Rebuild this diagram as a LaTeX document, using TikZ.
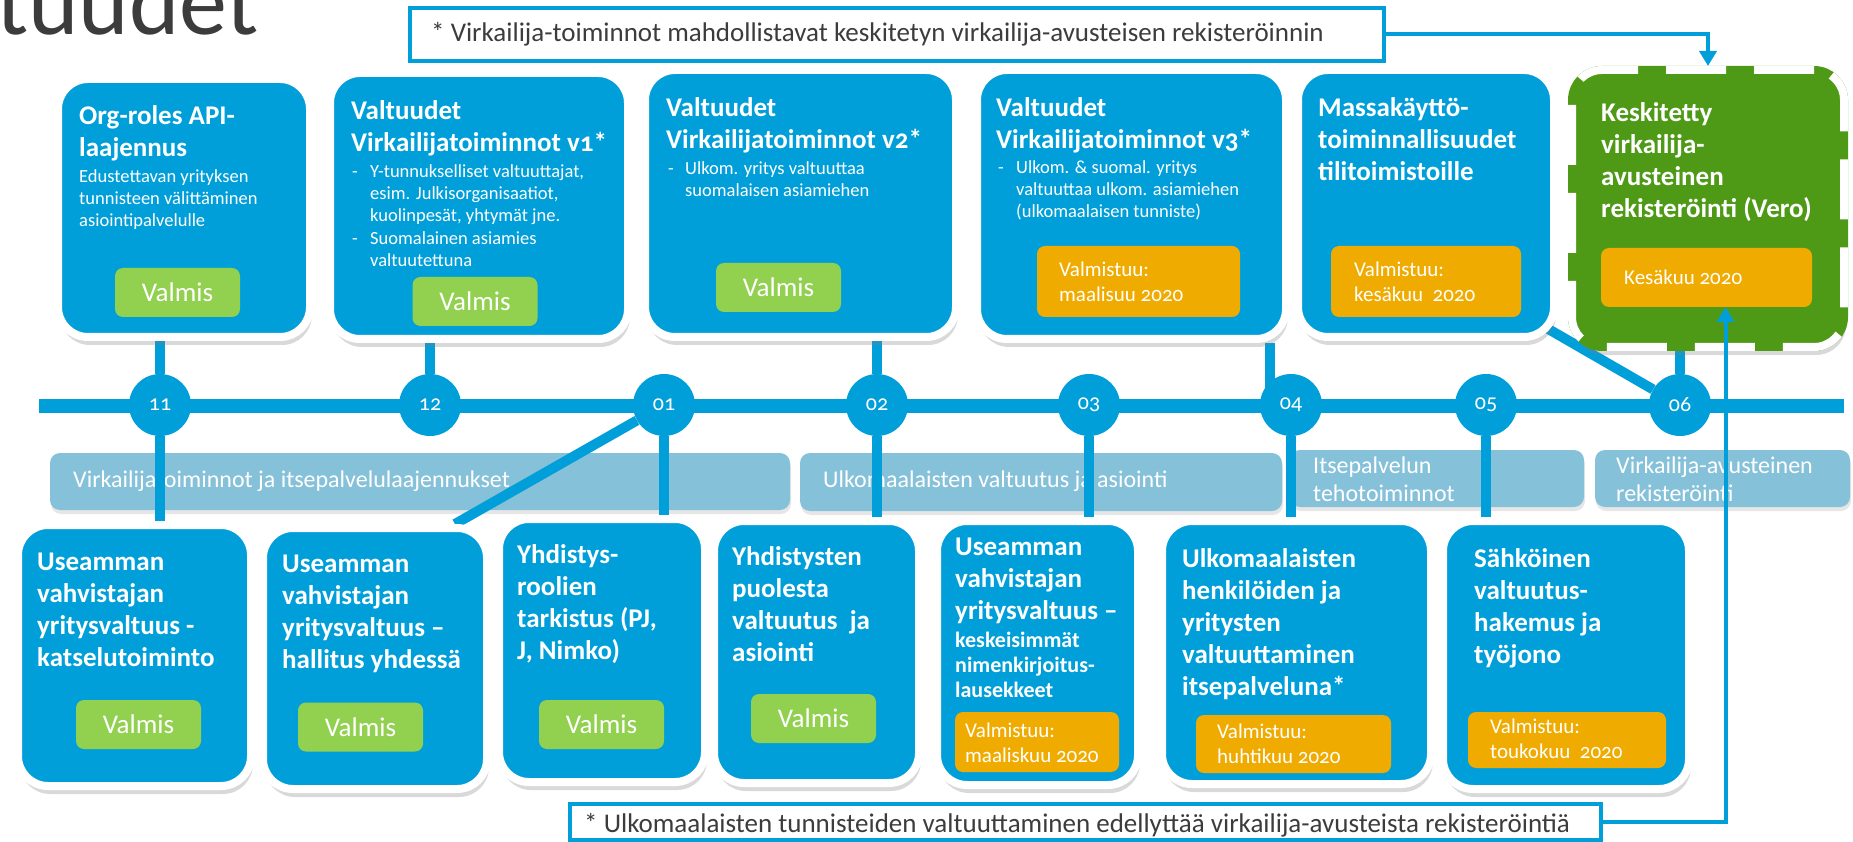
\documentclass[tikz,border=0pt]{standalone}
\usepackage{fontspec}
\setmainfont{Carlito}[Numbers=OldStyle]
\usetikzlibrary{shadows,arrows.meta}

\definecolor{vblue}{HTML}{009FDA}
\definecolor{vgreen}{HTML}{92D050}
\definecolor{vorange}{HTML}{F0AB00}
\definecolor{vleaf}{HTML}{4E9A17}
\definecolor{vband}{HTML}{86C1DA}
\definecolor{vgray}{HTML}{3C3C3C}

\pgfdeclarelayer{bands}
\pgfdeclarelayer{lines}
\pgfsetlayers{bands,lines,main}

\tikzset{
  taskbox/.style={draw=white, line width=8pt, fill=vblue, rounded corners=30pt,
    drop shadow={shadow xshift=2pt, shadow yshift=-8pt, opacity=0.3}},
  vergobox/.style={taskbox, fill=vleaf, dash pattern=on 60pt off 28pt,
    preaction={draw=vleaf, line width=8pt, solid}},
  donebtn/.style={fill=vgreen, rounded corners=8pt, minimum width=125pt, minimum height=49pt,
    inner sep=0pt, text=white, font=\fontsize{27}{32}\selectfont},
  duebtn/.style={fill=vorange, rounded corners=8pt, inner sep=0pt},
  headtxt/.style={anchor=base west, align=left, inner sep=0pt, text=white,
    font=\fontsize{27}{32}\selectfont\bfseries},
  subtxt/.style={anchor=base west, align=left, inner sep=0pt, text=white,
    font=\fontsize{18.5}{22}\selectfont},
  duetxt/.style={anchor=base west, align=left, inner sep=0pt, text=white,
    font=\fontsize{21}{25}\selectfont},
  phaseband/.style={fill=vband, rounded corners=10pt, inner sep=0pt,
    drop shadow={shadow xshift=1pt, shadow yshift=-4pt, opacity=0.2}},
  phasetxt/.style={anchor=base west, align=left, inner sep=0pt, text=white,
    font=\fontsize{24}{28}\selectfont},
  monthdot/.style={circle, fill=vblue, minimum size=62pt, inner sep=0pt, text=white,
    font=\fontsize{22}{22}\selectfont},
  link/.style={draw=vblue, line width=10pt},
  footbox/.style={draw=vblue, line width=4pt, fill=white, inner sep=0pt},
  foottxt/.style={anchor=base west, inner sep=0pt, text=vgray,
    font=\fontsize{27}{32}\selectfont},
  footarrow/.style={draw=vblue, line width=4pt, -{Triangle[length=15pt,width=17pt]}}
}

\begin{document}
\begin{tikzpicture}[x=1pt,y=-1pt]
\useasboundingbox (0,0) rectangle (1853,842);

\node[anchor=base west, inner sep=0pt, text=vgray, font=\fontsize{96}{96}\selectfont] (ttl) at (-4,35) {tuudet};

\node[taskbox, minimum width=252pt, minimum height=258pt] (t1) at (184,208) {};
\node[headtxt] (t1h) at (79,157) {Org-roles API-\\laajennus};
\node[subtxt] (t1s) at (79,227) {Edustettavan yrityksen\\tunnisteen välittäminen\\asiointipalvelulle};
\node[donebtn] (t1v) at (177.5,292.5) {Valmis};

\node[taskbox, minimum width=298pt, minimum height=266pt] (t2) at (479,206) {};
\node[headtxt] (t2h) at (351,152) {Valtuudet\\Virkailijatoiminnot v1*};
\node[subtxt] (t2a) at (352,178) {-};
\node[subtxt] (t2b) at (370,222) {Y-tunnukselliset valtuuttajat,\\esim. Julkisorganisaatiot,\\kuolinpesät, yhtymät jne.};
\node[subtxt] (t2c) at (352,245) {-};
\node[subtxt] (t2d) at (370,267) {Suomalainen asiamies\\valtuutettuna};
\node[donebtn] (t2v) at (475,301.5) {Valmis};

\node[taskbox, minimum width=311pt, minimum height=267pt] (t3) at (800.5,203.5) {};
\node[headtxt] (t3h) at (666,149) {Valtuudet\\Virkailijatoiminnot v2*};
\node[subtxt] (t3a) at (668,175) {-};
\node[subtxt] (t3b) at (685,197) {Ulkom. yritys valtuuttaa\\suomalaisen asiamiehen};
\node[donebtn] (t3v) at (778.5,287.5) {Valmis};

\node[taskbox, minimum width=309pt, minimum height=269pt] (t4) at (1131.5,204.5) {};
\node[headtxt] (t4h) at (996,149) {Valtuudet\\Virkailijatoiminnot v3*};
\node[subtxt] (t4a) at (998,174) {-};
\node[subtxt] (t4b) at (1016,218) {Ulkom. \& suomal. yritys\\valtuuttaa ulkom. asiamiehen\\(ulkomaalaisen tunniste)};
\node[duebtn, minimum width=203pt, minimum height=71pt] (t4o) at (1138.5,281.5) {};
\node[duetxt] (t4t) at (1059,302) {Valmistuu:\\maalisuu 2020};

\node[taskbox, minimum width=256pt, minimum height=267pt] (t5) at (1426,203.5) {};
\node[headtxt] (t5h) at (1318,181) {Massakäyttö-\\toiminnallisuudet\\tilitoimistoille};
\node[duebtn, minimum width=190pt, minimum height=71pt] (t5o) at (1426,281.5) {};
\node[duetxt] (t5t) at (1354,302) {Valmistuu:\\kesäkuu\ \ 2020};

\node[vergobox, minimum width=272pt, minimum height=277pt] (t6) at (1708,208.5) {};
\node[headtxt] (t6h) at (1601,218) {Keskitetty\\virkailija-\\avusteinen\\rekisteröinti (Vero)};
\node[duebtn, minimum width=211pt, minimum height=59pt] (t6o) at (1706.5,277.5) {};
\node[duetxt] (t6t) at (1624,285) {Kesäkuu 2020};

\node[taskbox, minimum width=233pt, minimum height=261pt] (b1) at (134.5,655.5) {};
\node[headtxt] (b1h) at (37,666) {Useamman\\vahvistajan\\yritysvaltuus -\\katselutoiminto};
\node[donebtn] (b1v) at (138.5,724.5) {Valmis};

\node[taskbox, minimum width=224pt, minimum height=261pt] (b2) at (375,658.5) {};
\node[headtxt] (b2h) at (282,668) {Useamman\\vahvistajan\\yritysvaltuus –\\hallitus yhdessä};
\node[donebtn] (b2v) at (360.5,727) {Valmis};

\node[taskbox, minimum width=206pt, minimum height=263pt] (b3) at (602,650.5) {};
\node[headtxt] (b3h) at (517,659) {Yhdistys-\\roolien\\tarkistus (PJ,\\J, Nimko)};
\node[donebtn] (b3v) at (601.5,724.5) {Valmis};

\node[taskbox, minimum width=205pt, minimum height=262pt] (b4) at (816.5,652) {};
\node[headtxt] (b4h) at (732,661) {Yhdistysten\\puolesta\\valtuutus\ \ ja\\asiointi};
\node[donebtn] (b4v) at (813.5,718.5) {Valmis};

\node[taskbox, minimum width=201pt, minimum height=264pt] (b5) at (1037.5,653) {};
\node[headtxt] (b5h) at (955,619) {Useamman\\vahvistajan\\yritysvaltuus –};
\node[headtxt, font=\fontsize{22}{25}\selectfont\bfseries] (b5s) at (955,697) {keskeisimmät\\nimenkirjoitus-\\lausekkeet};
\node[duebtn, minimum width=164pt, minimum height=60pt] (b5o) at (1037,742) {};
\node[duetxt] (b5t) at (965,762) {Valmistuu:\\maaliskuu 2020};

\node[taskbox, minimum width=269pt, minimum height=263pt] (b6) at (1296.5,652.5) {};
\node[headtxt] (b6h) at (1182,695) {Ulkomaalaisten\\henkilöiden ja\\yritysten\\valtuuttaminen\\itsepalveluna*};
\node[duebtn, minimum width=195pt, minimum height=58pt] (b6o) at (1293.5,744) {};
\node[duetxt] (b6t) at (1217,763) {Valmistuu:\\huhtikuu 2020};

\node[taskbox, minimum width=246pt, minimum height=268pt] (b7) at (1566,655) {};
\node[headtxt] (b7h) at (1474,663) {Sähköinen\\valtuutus-\\hakemus ja\\työjono};
\node[duebtn, minimum width=198pt, minimum height=56pt] (b7o) at (1567,740) {};
\node[duetxt] (b7t) at (1490,758) {Valmistuu:\\toukokuu\ \ 2020};

\node[monthdot] (c11) at (160,405) {11};
\node[monthdot] (c12) at (430,405) {12};
\node[monthdot] (c01) at (664,405) {01};
\node[monthdot] (c02) at (877,405) {02};
\node[monthdot] (c03) at (1089,405) {03};
\node[monthdot] (c04) at (1291,405) {04};
\node[monthdot] (c05) at (1486,405) {05};
\node[monthdot] (c06) at (1680,405) {06};
\coordinate (tl0) at (39,406);
\coordinate (tl1) at (1844,406);
\coordinate (c04w) at (1270,405);

\begin{pgfonlayer}{bands}
\node[phaseband, minimum width=740pt, minimum height=57pt] (k1) at (420,481.5) {};
\node[phasetxt] (k1t) at (73,487) {Virkailijatoiminnot ja itsepalvelulaajennukset};
\node[phaseband, minimum width=482pt, minimum height=58pt] (k2) at (1041,482) {};
\node[phasetxt] (k2t) at (823,487) {Ulkomaalaisten valtuutus ja asiointi};
\node[phaseband, minimum width=294pt, minimum height=57pt] (k3) at (1437,478.5) {};
\node[phasetxt] (k3t) at (1313,501) {Itsepalvelun\\tehotoiminnot};
\node[phaseband, minimum width=255pt, minimum height=57pt] (k4) at (1722.5,478.5) {};
\node[phasetxt] (k4t) at (1616,501) {Virkailija-avusteinen\\rekisteröinti};
\end{pgfonlayer}

\begin{pgfonlayer}{lines}
\draw[line width=14pt, vblue] (tl0) -- (tl1);
\draw[link] (t1.south -| c11) -- (c11);
\draw[link] (c11) -- (b1.north -| c11);
\draw[link] (t2.south -| c12) -- (c12);
\draw[link] (c01) -- ([xshift=-36pt]b2.north east);
\draw[link] (c01) -- (b3.north -| c01);
\draw[link] (t3.south -| c02) -- (c02);
\draw[link] (c02) -- (b4.north -| c02);
\draw[link] (c03) -- (b5.north -| c03);
\draw[link] (t4.south -| c04w) -- (c04w);
\draw[link] (c04) -- (b6.north -| c04);
\draw[link] (c05) -- (b7.north -| c05);
\draw[link] (c06) -- (t6.south -| c06);
\draw[link] (c06) -- ([xshift=-34pt,yshift=26pt]t5.south east);
\end{pgfonlayer}

\node[footbox, minimum width=974pt, minimum height=53pt] (n1) at (897,34.5) {};
\node[foottxt] (n1t) at (431,42) {* Virkailija-toiminnot mahdollistavat keskitetyn virkailija-avusteisen rekisteröinnin};
\node[footbox, minimum width=1031pt, minimum height=36pt] (n2) at (1085.5,822) {};
\node[foottxt] (n2t) at (584,832) {* Ulkomaalaisten tunnisteiden valtuuttaminen edellyttää virkailija-avusteista rekisteröintiä};

\draw[footarrow] (n1.east) -| (t6.north);
\draw[footarrow] (n2.east) -| ([xshift=19pt]t6o.south);
\end{tikzpicture}
\end{document}
